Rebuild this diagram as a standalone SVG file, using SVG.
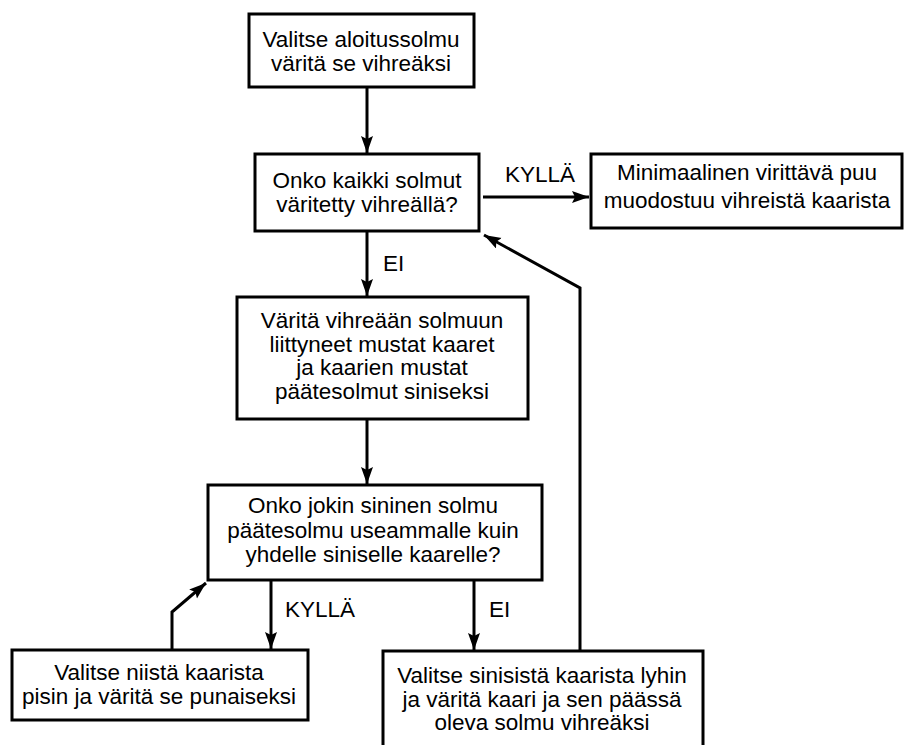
<svg xmlns="http://www.w3.org/2000/svg" width="904" height="745" viewBox="0 0 904 745">
  <style>
    .box { fill: #ffffff; stroke: #000000; stroke-width: 3; }
    .edge { fill: none; stroke: #000000; stroke-width: 3; stroke-linejoin: miter; }
    text { font-family: "Liberation Sans", Arial, sans-serif; font-size: 22.5px; fill: #000000; }
    .c { text-anchor: middle; }
  </style>
  <defs>
    <marker id="arrow" markerUnits="userSpaceOnUse" markerWidth="18" markerHeight="14" refX="17" refY="6" orient="auto">
      <path d="M0,0 L17,6 L0,12 L3,6 z" fill="#000000"/>
    </marker>
  </defs>
  <rect width="904" height="745" fill="#ffffff"/>

  <g id="connectors">
    <line class="edge" x1="367" y1="87" x2="367" y2="153" marker-end="url(#arrow)"/>
    <line class="edge" x1="483" y1="197" x2="589" y2="197" marker-end="url(#arrow)"/>
    <line class="edge" x1="367" y1="231" x2="367" y2="296" marker-end="url(#arrow)"/>
    <line class="edge" x1="367" y1="419" x2="367" y2="484" marker-end="url(#arrow)"/>
    <line class="edge" x1="271" y1="580" x2="271" y2="649" marker-end="url(#arrow)"/>
    <line class="edge" x1="474" y1="580" x2="474" y2="650" marker-end="url(#arrow)"/>
    <polyline class="edge" points="172,650 172,612 206,583" marker-end="url(#arrow)"/>
    <polyline class="edge" points="580,651 580,288 484,235" marker-end="url(#arrow)"/>
    <text x="505" y="182">KYLLÄ</text>
    <text x="383" y="271">EI</text>
    <text x="285" y="617">KYLLÄ</text>
    <text x="489" y="617">EI</text>
  </g>

  <g id="start">
    <rect class="box" x="249" y="14" width="225" height="73"/>
    <text class="c" x="361" y="47">Valitse aloitussolmu</text>
    <text class="c" x="361" y="71">väritä se vihreäksi</text>
  </g>

  <g id="all-green">
    <rect class="box" x="255" y="154" width="224" height="77"/>
    <text class="c" x="367" y="188">Onko kaikki solmut</text>
    <text class="c" x="367" y="212">väritetty vihreällä?</text>
  </g>

  <g id="result">
    <rect class="box" x="591" y="154" width="311" height="74"/>
    <text class="c" x="747" y="180">Minimaalinen virittävä puu</text>
    <text class="c" x="747" y="208">muodostuu vihreistä kaarista</text>
  </g>

  <g id="color-edges">
    <rect class="box" x="237" y="297" width="291" height="122"/>
    <text class="c" x="382" y="328">Väritä vihreään solmuun</text>
    <text class="c" x="382" y="352">liittyneet mustat kaaret</text>
    <text class="c" x="382" y="375">ja kaarien mustat</text>
    <text class="c" x="382" y="399">päätesolmut siniseksi</text>
  </g>

  <g id="multi-blue">
    <rect class="box" x="208" y="485" width="334" height="95"/>
    <text class="c" x="373" y="513">Onko jokin sininen solmu</text>
    <text class="c" x="373" y="538">päätesolmu useammalle kuin</text>
    <text class="c" x="373" y="562">yhdelle siniselle kaarelle?</text>
  </g>

  <g id="pick-longest">
    <rect class="box" x="12" y="650" width="296" height="70"/>
    <text class="c" x="159" y="680">Valitse niistä kaarista</text>
    <text class="c" x="159" y="704">pisin ja väritä se punaiseksi</text>
  </g>

  <g id="pick-shortest">
    <rect class="box" x="383" y="651" width="320" height="110"/>
    <text class="c" x="542" y="683">Valitse sinisistä kaarista lyhin</text>
    <text class="c" x="542" y="707">ja väritä kaari ja sen päässä</text>
    <text class="c" x="542" y="730">oleva solmu vihreäksi</text>
  </g>
</svg>
